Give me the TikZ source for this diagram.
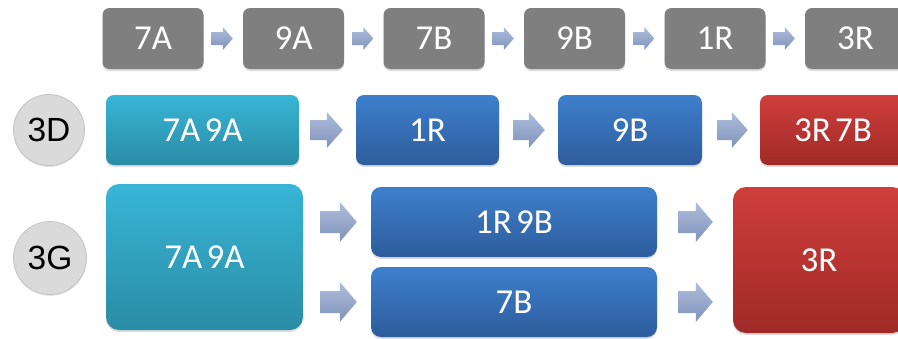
\documentclass[tikz,border=0pt]{standalone}
\usepackage{fontspec}
\newfontfamily\boxfont{Carlito}
\newfontfamily\tagfont{Liberation Sans}
\usetikzlibrary{calc,shadows}

\definecolor{greyfill}{HTML}{7F7F7F}
\definecolor{tealtop}{HTML}{38B5D6}
\definecolor{tealbot}{HTML}{2A8CA5}
\definecolor{bluetop}{HTML}{3E7FCD}
\definecolor{bluebot}{HTML}{2E5D9C}
\definecolor{redtop}{HTML}{CF3E3B}
\definecolor{redbot}{HTML}{A02A28}
\definecolor{arrtop}{HTML}{AEBDDC}
\definecolor{arrbot}{HTML}{7F93BA}
\definecolor{tagfill}{HTML}{DADADA}
\definecolor{tagline}{HTML}{C4C4C4}

% narrow word gap between the stage names
\newcommand\sgap{\hspace{0.12em}}

\tikzset{
  stagebox/.style={inner sep=0pt, text=white,
    font=\boxfont\fontsize{35}{40}\selectfont,
    drop shadow={opacity=0.28, shadow xshift=0pt, shadow yshift=-2pt}},
  greybox/.style={stagebox, fill=greyfill, rounded corners=7pt,
    minimum width=101pt, minimum height=61pt},
  tealbox/.style={stagebox, top color=tealtop, bottom color=tealbot},
  bluebox/.style={stagebox, top color=bluetop, bottom color=bluebot},
  redbox/.style={stagebox, top color=redtop, bottom color=redbot},
  tagcircle/.style={circle, fill=tagfill, draw=tagline, line width=0.8pt,
    inner sep=0pt, font=\tagfont\fontsize{33.5}{38}\selectfont,
    drop shadow={opacity=0.2, shadow xshift=0pt, shadow yshift=-1.5pt}},
  arrowfill/.style={top color=arrtop, bottom color=arrbot, draw=none},
}

% block arrow from point #1 to point #2 (tip); #3 half head height,
% #4 half shaft height, #5 head length
\newcommand\blockarrow[5]{%
  \path[arrowfill] let \p1=#1, \p2=#2 in
    (\x1,{\y1+#4}) -- ({\x2-#5},{\y1+#4}) -- ({\x2-#5},{\y1+#3})
    -- (\x2,\y1) -- ({\x2-#5},{\y1-#3}) -- ({\x2-#5},{\y1-#4})
    -- (\x1,{\y1-#4}) -- cycle;}

\begin{document}
\begin{tikzpicture}[x=1pt,y=-1pt]
\useasboundingbox (0,0) rectangle (898,338);
\clip (0,0) rectangle (898,338);

% sequential order
\node[greybox] (g1) at (153,38.5) {7A};
\node[greybox] (g2) at (293.5,38.5) {9A};
\node[greybox] (g3) at (434,38.5) {7B};
\node[greybox] (g4) at (574.5,38.5) {9B};
\node[greybox] (g5) at (715,38.5) {1R};
\node[greybox] (g6) at (855.5,38.5) {3R};
\foreach \a/\b in {g1/g2,g2/g3,g3/g4,g4/g5,g5/g6}
  \blockarrow{($(\a.east)+(8,0)$)}{($(\b.west)+(-10,0)$)}{11.5}{6.5}{10};

% 3D row
\node[tagcircle, minimum size=71pt] (c3d) at (49,130) {3D};
\node[tealbox, rounded corners=8pt, minimum width=193pt, minimum height=70pt] (d1) at (202.5,130) {7A\sgap 9A};
\node[bluebox, rounded corners=8pt, minimum width=143pt, minimum height=70pt] (d2) at (427.5,130) {1R};
\node[bluebox, rounded corners=8pt, minimum width=144pt, minimum height=70pt] (d3) at (630,130) {9B};
\node[redbox, rounded corners=8pt, minimum width=146pt, minimum height=70pt] (d4) at (833,130) {3R\sgap 7B};
\blockarrow{($(d1.east)+(11,0)$)}{($(d2.west)+(-13,0)$)}{18}{10}{16}
\blockarrow{($(d2.east)+(14,0)$)}{($(d3.west)+(-13,0)$)}{18}{10}{16}
\blockarrow{($(d3.east)+(15,0)$)}{($(d4.west)+(-12,0)$)}{18}{10}{16}

% 3G row
\node[tagcircle, minimum size=73pt] (c3g) at (50,258) {3G};
\node[tealbox, rounded corners=13pt, minimum width=197pt, minimum height=146pt] (e1) at (204.5,257) {7A\sgap 9A};
\node[bluebox, rounded corners=10pt, minimum width=286pt, minimum height=70pt] (e2) at (514,222) {1R\sgap 9B};
\node[bluebox, rounded corners=10pt, minimum width=286pt, minimum height=70pt] (e3) at (514,302) {7B};
\node[redbox, rounded corners=13pt, minimum width=172pt, minimum height=146pt] (e4) at (819,260) {3R};
\blockarrow{($(e1.east |- e2.west)+(17,0)$)}{($(e2.west)+(-14,0)$)}{20}{11}{17}
\blockarrow{($(e1.east |- e3.west)+(17,0)$)}{($(e3.west)+(-14,0)$)}{20}{11}{17}
\blockarrow{($(e2.east)+(21,0)$)}{($(e4.west |- e2.east)+(-20,0)$)}{20}{11}{17}
\blockarrow{($(e3.east)+(21,0)$)}{($(e4.west |- e3.east)+(-20,0)$)}{20}{11}{17}
\end{tikzpicture}
\end{document}
